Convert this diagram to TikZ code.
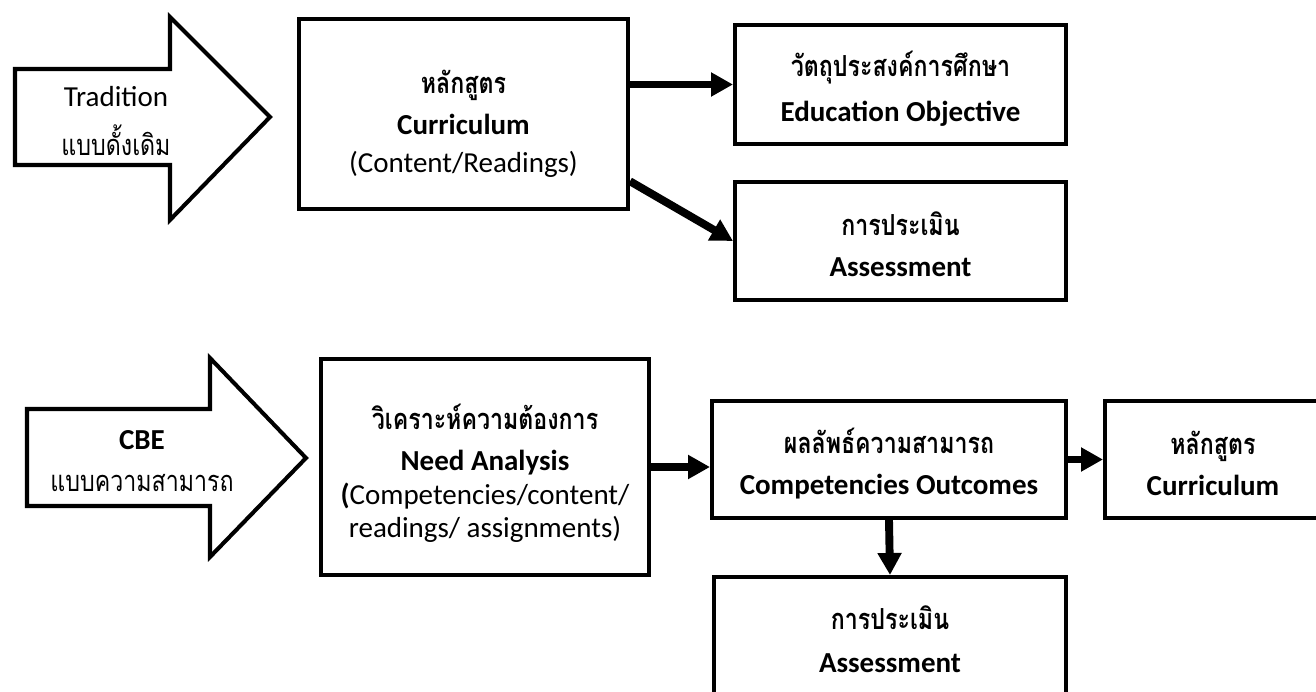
\documentclass[tikz,border=0pt]{standalone}
\usepackage{fontspec}
\setmainfont{Carlito}
\newfontfamily\thaifont[Script=Thai, FakeStretch=0.8]{Loma}
\usetikzlibrary{arrows.meta,calc}

\tikzset{
  box/.style={draw, line width=2.3pt, inner sep=0pt},
  flow/.style={line width=4.5pt, -{Triangle[length=12.5pt,width=13pt]}},
  bigarrow/.style={draw, line width=2.3pt, line join=miter},
  label/.style={align=center, inner sep=0pt, font=\fontsize{16.5}{18.5}\selectfont},
}

\begin{document}
\begin{tikzpicture}[x=0.02cm, y=-0.02cm]
\clip (0,0) rectangle (1316,692);
\fill[white] (0,0) rectangle (1316,692);

% traditional model
\draw[bigarrow] (15,69) -- (170,69) -- (170,17) -- (270,117) -- (170,220) -- (170,165) -- (15,165) -- cycle;
\node[label] (trad) at (116,121) {Tradition\\[9pt]{\thaifont แบบดั้งเดิม}};

\node[box, minimum width=6.58cm, minimum height=3.8cm] (cur) at (463.5,114) {};
\node[label, yshift=-0.2cm] (curtext) at (cur)
  {{\thaifont\bfseries หลักสูตร}\\[5pt]\textbf{Curriculum}\\[3pt](Content/Readings)};
\node[box, minimum width=6.62cm, minimum height=2.38cm] (obj) at (900.5,84.5) {};
\node[label, yshift=-0.08cm] (objtext) at (obj)
  {{\thaifont\bfseries วัตถุประสงค์การศึกษา}\\[7pt]\textbf{Education Objective}};
\node[box, minimum width=6.62cm, minimum height=2.36cm] (assA) at (900.5,241) {};
\node[label, yshift=-0.06cm] (assAtext) at (assA)
  {{\thaifont\bfseries การประเมิน}\\[5pt]\textbf{Assessment}};

\draw[flow] (cur.east |- obj.west) -- (obj.west);
\draw[flow] (cur.-22) -- (assA.west);

% competency based model
\draw[bigarrow] (27,409) -- (210,409) -- (210,358) -- (306,458) -- (210,557) -- (210,506) -- (27,506) -- cycle;
\node[label] (cbe) at (142,461) {\textbf{CBE}\\[5pt]{\thaifont แบบความสามารถ}};

\node[box, minimum width=6.56cm, minimum height=4.32cm] (need) at (485,467) {};
\node[label, yshift=-0.12cm] (needtext) at (need)
  {{\thaifont\bfseries วิเคราะห์ความต้องการ}\\[5pt]\textbf{Need Analysis}\\[1pt]\textbf{(}Competencies/content/\\readings/ assignments)};
\node[box, minimum width=7.08cm, minimum height=2.34cm] (comp) at (889,459.5) {};
\node[label, yshift=-0.08cm] (comptext) at (comp)
  {{\thaifont\bfseries ผลลัพธ์ความสามารถ}\\[5pt]\textbf{Competencies Outcomes}};
\node[box, minimum width=4.32cm, minimum height=2.34cm] (curB) at (1213,459.5) {};
\node[label, yshift=-0.08cm] (curBtext) at (curB)
  {{\thaifont\bfseries หลักสูตร}\\[5pt]\textbf{Curriculum}};
\node[box, minimum width=7.04cm, minimum height=2.56cm] (assB) at (890,641) {};
\node[label, yshift=0.04cm] (assBtext) at (assB)
  {{\thaifont\bfseries การประเมิน}\\[6pt]\textbf{Assessment}};

\draw[flow] (need.east) -- (need.east -| comp.west);
\draw[flow] (comp.east) -- (curB.west);
\draw[flow] (comp.south) -- (assB.north);

\end{tikzpicture}
\end{document}
